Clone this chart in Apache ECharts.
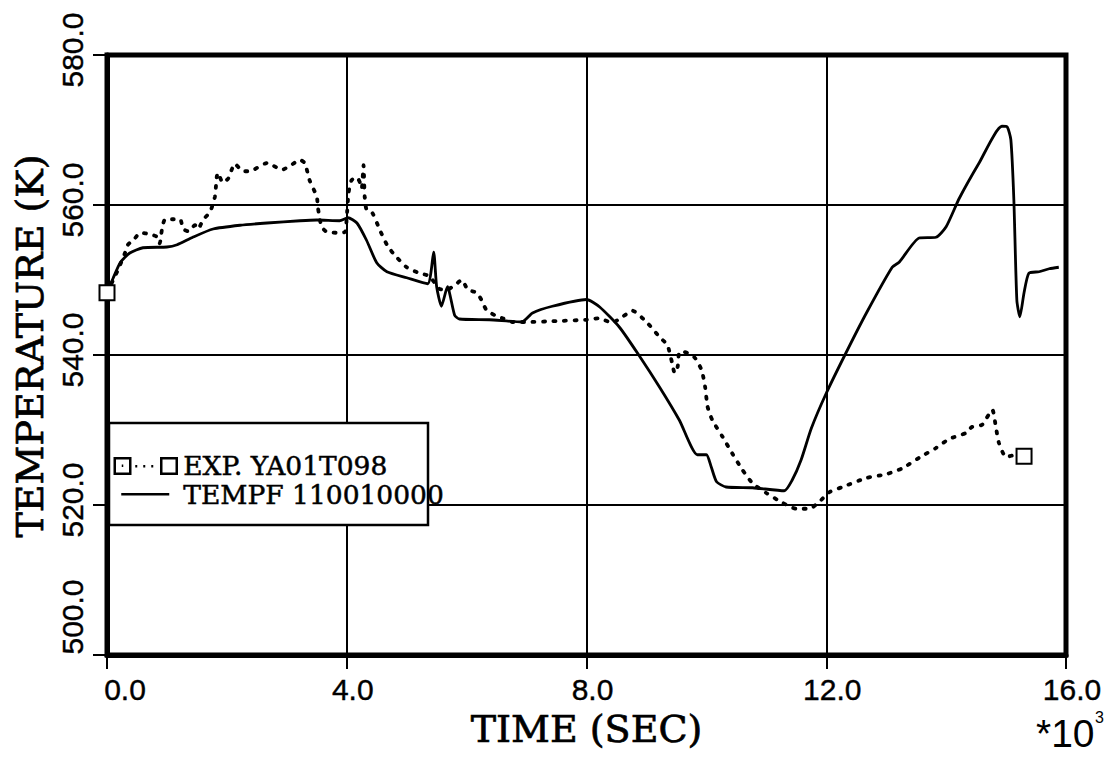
<!DOCTYPE html>
<html>
<head>
<meta charset="utf-8">
<script src="https://cdn.jsdelivr.net/npm/echarts@6/dist/echarts.min.js"></script>
<style>html,body{margin:0;padding:0;background:#fff;}#c{width:1114px;height:758px;}</style>
</head>
<body>
<div id="c"></div>
<script>
// Experimental data (EXP. YA01T098): time in s, temperature in K
const expTime = [0,180,300,350,470,550,720,850,880,920,970,1100,1220,1270,1350,1470,1520,1600,1720,1800,1830,1850,1930,2020,2080,2130,2270,2380,2670,2920,3050,3220,3300,3380,3500,3520,3580,3670,3830,3970,4000,4030,4080,4170,4220,4250,4280,4300,4330,4430,4550,4670,4770,5000,5220,5380,5550,5670,5800,5920,6020,6170,6250,6330,6470,6600,6770,7000,7430,8000,8200,8430,8600,8770,9000,9220,9350,9430,9470,9520,9550,9630,9800,9920,9980,10020,10100,10270,10430,10600,10770,11000,11270,11500,11720,11880,12050,12270,12670,13000,13270,13550,13830,14050,14330,14430,14600,14770,14830,14880,15000,15170,15300];
const expTemp = [548.3,551.3,553.6,554.7,555.6,556.3,556.1,555.7,554.9,556.9,558.1,558.1,558.1,556.8,556.5,557.3,556.8,558.0,559.1,561.1,563.7,564.3,563.0,563.5,564.7,565.5,564.5,564.5,565.6,564.7,565.2,566.0,565.6,563.3,561.1,559.6,557.1,556.4,556.3,556.4,558.4,561.6,563.3,563.7,563.0,562.2,565.3,561.0,559.4,558.9,556.7,554.7,553.6,551.7,550.9,550.5,548.8,548.7,549.3,550.0,548.7,548.3,547.3,546.0,545.3,544.9,544.4,544.4,544.5,544.7,544.9,544.3,545.1,545.9,544.4,542.4,541.3,538.9,537.6,538.4,540.4,540.4,539.7,538.0,535.7,533.1,531.3,529.1,526.9,524.7,522.9,521.6,520.3,519.5,519.5,520.4,521.7,522.4,523.6,524.1,524.9,526.3,527.6,528.8,529.6,530.4,530.7,532.7,530.4,528.3,526.4,526.7,526.5];
// Code result (TEMPF 110010000)
const codeTime = [0,100,220,380,600,1000,1170,1430,1770,2220,2670,3220,3500,3880,4020,4170,4330,4500,4670,5000,5350,5450,5500,5580,5680,5800,5880,6380,6920,7100,7430,8000,8220,8550,8880,9220,9550,9850,10000,10080,10170,10330,10770,11300,11430,11580,11750,12000,12330,12670,13100,13220,13550,13830,14000,14220,14550,14930,15020,15080,15130,15180,15230,15300,15380,15550,15720,15880];
const codeTemp = [548.3,550.2,552.3,553.6,554.3,554.4,554.7,555.7,556.8,557.3,557.6,557.9,558.0,557.9,558.3,557.6,555.3,552.3,551.1,550.3,549.5,553.7,549.1,546.5,549.1,545.3,544.8,544.7,544.4,545.6,546.5,547.4,546.4,543.7,539.9,535.7,531.3,526.7,526.7,525.1,523.1,522.4,522.3,521.9,523.3,526.0,530.2,534.9,540.3,545.6,551.7,552.4,555.6,555.7,557.1,560.9,565.6,570.5,570.4,568.7,560.7,547.3,545.1,548.3,550.9,551.1,551.5,551.7];
const seriesNames = ['EXP. YA01T098', 'TEMPF 110010000'];
const xTicks = [0, 4000, 8000, 12000, 16000];
const yTicks = [500, 520, 540, 560, 580];

const expData = expTime.map((t, i) => [t, expTemp[i]]);
const codeData = codeTime.map((t, i) => [t, codeTemp[i]]);

const chart = echarts.init(document.getElementById('c'), null, {renderer: 'svg'});
const serif = 'DejaVu Serif';
const sans = 'Liberation Sans';
const axisCommon = {
  axisLine: {show: true, onZero: false, lineStyle: {color: '#000', width: 5}},
  axisTick: {show: true, length: 14, lineStyle: {color: '#000', width: 2}},
  splitLine: {show: true, lineStyle: {color: '#000', width: 2}},
};
const labelFont = {fontFamily: sans, fontSize: 30, color: '#000', textBorderColor: '#000', textBorderWidth: 0.4};
const titleFont = {fontFamily: serif, fontSize: 38, color: '#000', textBorderColor: '#000', textBorderWidth: 0.7};
chart.setOption({
  backgroundColor: '#fff',
  animation: false,
  grid: {left: 107, top: 55, right: 48, bottom: 103, show: true, borderColor: '#000', borderWidth: 5},
  xAxis: Object.assign({
    type: 'value', min: xTicks[0], max: xTicks[xTicks.length - 1], interval: xTicks[1] - xTicks[0],
    name: 'TIME (SEC)', nameLocation: 'middle', nameGap: 55,
    nameTextStyle: titleFont,
    axisLabel: Object.assign({margin: 19, padding: [0, 0, 0, 12],
      formatter: v => v === xTicks[0] ? '{first|' + (v / 1000).toFixed(1) + '}' : (v / 1000).toFixed(1),
      rich: {first: Object.assign({padding: [0, 0, 0, 24]}, labelFont)}}, labelFont)
  }, axisCommon),
  yAxis: Object.assign({
    type: 'value', min: yTicks[0], max: yTicks[yTicks.length - 1], interval: yTicks[1] - yTicks[0],
    name: 'TEMPERATURE (K)', nameLocation: 'middle', nameGap: 57, nameRotate: 90,
    nameTextStyle: Object.assign({padding: [0, 0, 0, 18]}, titleFont),
    axisLabel: Object.assign({margin: 20, rotate: 90, padding: [0, 0, 0, 10],
      formatter: v => v === yTicks[0] ? '{first|' + v.toFixed(1) + '}' : v.toFixed(1),
      rich: {first: Object.assign({padding: [0, 0, 0, 66]}, labelFont)}}, labelFont)
  }, axisCommon),
  legend: {
    orient: 'vertical', left: 112, top: 452, padding: 0, itemGap: 1, itemWidth: 65, itemHeight: 18, z: 10,
    textStyle: {fontFamily: serif, fontSize: 26.5, color: '#000', textBorderColor: '#000', textBorderWidth: 0.5},
    data: [
      {name: seriesNames[0], icon: 'path://M1.5,1.5 L17,1.5 L17,17 L1.5,17 Z M8.5,9 L10,9 M22,9.5 L24,9.5 M30,9.5 L32,9.5 M38,9.5 L40,9.5 M48,1.5 L63.5,1.5 L63.5,17 L48,17 Z M0,0 M65,18',
       itemStyle: {color: 'transparent', borderColor: '#000', borderWidth: 2.5}},
      {name: seriesNames[1], icon: 'path://M0,0 M65,18 M8,9 L56,9',
       itemStyle: {color: 'transparent', borderColor: '#000', borderWidth: 2.5}}
    ]
  },
  graphic: [
    {type: 'rect', z: 5, shape: {x: 109, y: 423, width: 319, height: 102},
     style: {fill: '#fff', stroke: '#000', lineWidth: 2.5}},
    {type: 'text', z: 5, x: 1036, y: 714, style: {text: '*10', fontFamily: sans, fontSize: 39, fill: '#000'}},
    {type: 'text', z: 5, x: 1095, y: 709, style: {text: '3', fontFamily: sans, fontSize: 16, fill: '#000'}}
  ],
  series: [
    {
      name: seriesNames[0], type: 'line', data: expData, smooth: 0.2,
      symbol: (val, params) => (params.dataIndex === 0 || params.dataIndex === expData.length - 1) ? 'rect' : 'none',
      symbolSize: 15,
      itemStyle: {color: '#fff', borderColor: '#000', borderWidth: 2},
      lineStyle: {color: '#000', width: 3.8, type: [2, 8.5], cap: 'round'},
      showAllSymbol: true,
      z: 3
    },
    {
      name: seriesNames[1], type: 'line', data: codeData, smooth: 0.2,
      symbol: 'none',
      lineStyle: {color: '#000', width: 2.8},
      z: 3
    }
  ]
});
</script>
</body>
</html>
